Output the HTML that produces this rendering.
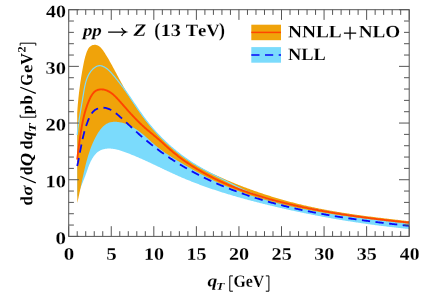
<!DOCTYPE html>
<html><head><meta charset="utf-8"><title>qT spectrum</title>
<style>html,body{margin:0;padding:0;background:#fff}svg{display:block;will-change:transform}text{font-family:"Liberation Serif",serif;font-kerning:none}</style></head>
<body>
<svg width="424" height="298" viewBox="0 0 424 298">
<rect width="424" height="298" fill="#fff"/>
<clipPath id="c"><rect x="68.7" y="9.7" width="340.5" height="226.70000000000002"/></clipPath>
<g clip-path="url(#c)">
<path d="M77.20 135.00L77.29 134.09L77.38 133.19L77.48 132.28L77.58 131.39L77.68 130.50L77.78 129.61L77.89 128.72L78.00 127.84L78.11 126.96L78.23 126.08L78.34 125.21L78.46 124.34L78.58 123.47L78.71 122.61L78.83 121.74L78.96 120.88L79.09 120.02L79.22 119.17L79.36 118.31L79.49 117.45L79.63 116.60L79.77 115.74L79.90 114.89L80.04 114.04L80.19 113.19L80.33 112.33L80.47 111.48L80.62 110.63L80.76 109.78L80.91 108.92L81.05 108.07L81.20 107.21L81.35 106.35L81.49 105.50L81.64 104.64L81.79 103.77L81.94 102.91L82.09 102.05L82.23 101.18L82.38 100.31L82.53 99.43L82.68 98.56L82.82 97.68L82.97 96.80L83.11 95.91L83.26 95.02L83.40 94.13L83.55 93.23L83.69 92.34L83.84 91.44L83.99 90.54L84.15 89.64L84.31 88.74L84.48 87.84L84.65 86.95L84.84 86.05L85.03 85.17L85.23 84.28L85.45 83.40L85.68 82.53L85.92 81.67L86.18 80.81L86.45 79.96L86.74 79.13L87.05 78.30L87.38 77.48L87.72 76.67L88.09 75.88L88.48 75.10L88.90 74.33L89.33 73.58L89.80 72.84L90.29 72.12L90.80 71.42L91.35 70.73L91.92 70.06L92.53 69.41L93.16 68.79L93.83 68.20L94.52 67.64L95.23 67.14L95.97 66.70L96.73 66.32L97.50 66.02L98.29 65.82L99.09 65.70L99.90 65.69L100.71 65.77L101.53 65.93L102.35 66.17L103.17 66.47L103.97 66.84L104.76 67.27L105.54 67.74L106.30 68.26L107.04 68.81L107.75 69.40L108.45 70.01L109.14 70.65L109.81 71.31L110.46 71.99L111.10 72.68L111.73 73.38L112.35 74.09L112.95 74.81L113.55 75.53L114.14 76.24L114.73 76.95L115.31 77.65L115.88 78.35L116.45 79.04L117.01 79.73L117.57 80.42L118.12 81.10L118.67 81.78L119.21 82.47L119.75 83.15L120.28 83.83L120.81 84.51L121.34 85.19L121.86 85.88L122.39 86.56L122.90 87.25L123.42 87.95L123.93 88.64L124.44 89.34L124.95 90.04L125.46 90.74L125.97 91.45L126.47 92.16L126.97 92.87L127.47 93.58L127.97 94.30L128.47 95.02L128.96 95.74L129.46 96.46L129.95 97.18L130.45 97.90L130.94 98.63L131.43 99.35L131.93 100.08L132.42 100.81L132.91 101.54L133.40 102.26L133.90 102.99L134.39 103.72L134.88 104.45L135.38 105.18L135.87 105.91L136.37 106.64L136.86 107.37L137.36 108.10L137.86 108.83L138.36 109.56L138.86 110.28L139.36 111.01L139.87 111.73L140.37 112.46L140.88 113.18L141.39 113.90L141.91 114.62L142.42 115.34L142.94 116.05L143.46 116.77L143.98 117.48L144.51 118.19L145.04 118.89L145.57 119.60L146.11 120.30L146.65 121.00L147.19 121.69L147.74 122.39L148.29 123.08L148.84 123.76L149.39 124.45L149.95 125.13L150.51 125.81L151.08 126.49L151.65 127.16L152.22 127.83L152.80 128.50L153.37 129.17L153.96 129.83L154.54 130.49L155.13 131.15L155.72 131.80L156.31 132.45L156.91 133.10L157.51 133.74L158.11 134.39L158.72 135.03L159.33 135.66L159.94 136.29L160.56 136.92L161.17 137.55L161.80 138.18L162.42 138.80L163.05 139.42L163.68 140.03L164.31 140.64L164.94 141.25L165.58 141.86L166.22 142.46L166.87 143.06L167.52 143.66L168.17 144.25L168.82 144.84L169.47 145.43L170.13 146.01L170.79 146.59L171.46 147.17L172.12 147.74L172.79 148.31L173.47 148.88L174.14 149.44L174.82 150.01L175.50 150.56L176.18 151.12L176.86 151.67L177.55 152.22L178.24 152.76L178.94 153.30L179.63 153.84L180.33 154.38L181.03 154.91L181.73 155.44L182.44 155.96L183.15 156.48L183.86 157.00L184.57 157.51L185.28 158.02L186.00 158.53L186.72 159.03L187.45 159.54L188.17 160.03L188.90 160.53L189.63 161.02L190.36 161.50L191.09 161.98L191.83 162.46L192.57 162.94L193.31 163.41L194.05 163.88L194.80 164.35L195.55 164.81L196.30 165.26L197.05 165.72L197.80 166.17L198.56 166.62L199.32 167.06L200.08 167.50L200.84 167.94L201.60 168.38L202.37 168.81L203.14 169.24L203.90 169.67L204.67 170.09L205.45 170.52L206.22 170.94L206.99 171.35L207.77 171.77L208.55 172.18L209.32 172.60L210.10 173.01L210.88 173.42L211.66 173.82L212.45 174.23L213.23 174.63L214.01 175.04L214.80 175.44L215.58 175.84L216.37 176.24L217.15 176.64L217.94 177.04L218.73 177.44L219.51 177.83L220.30 178.23L221.09 178.63L221.88 179.02L222.66 179.42L223.45 179.82L224.24 180.21L225.03 180.61L225.82 181.00L226.61 181.40L227.39 181.80L228.18 182.19L228.97 182.59L229.75 182.99L230.54 183.39L231.33 183.79L232.11 184.19L232.90 184.59L233.68 184.99L234.47 185.40L235.25 185.79L236.04 186.19L236.82 186.59L237.61 186.99L238.40 187.38L239.18 187.77L239.97 188.16L240.76 188.54L241.55 188.93L242.35 189.31L243.14 189.68L243.94 190.05L244.73 190.42L245.53 190.78L246.33 191.14L247.14 191.49L247.94 191.84L248.75 192.18L249.56 192.52L250.37 192.86L251.18 193.18L251.99 193.51L252.81 193.83L253.63 194.15L254.44 194.46L255.27 194.77L256.09 195.07L256.91 195.37L257.74 195.67L258.56 195.96L259.39 196.25L260.22 196.53L261.05 196.81L261.88 197.09L262.72 197.36L263.55 197.63L264.39 197.90L265.23 198.16L266.06 198.42L266.90 198.67L267.75 198.93L268.59 199.18L269.43 199.42L270.28 199.67L271.12 199.90L271.97 200.14L272.82 200.38L273.67 200.61L274.52 200.83L275.37 201.06L276.22 201.28L277.07 201.50L277.93 201.72L278.78 201.93L279.64 202.15L280.49 202.36L281.35 202.56L282.21 202.77L283.07 202.97L283.93 203.17L284.79 203.37L285.65 203.57L286.51 203.76L287.37 203.95L288.24 204.14L289.10 204.33L289.96 204.52L290.83 204.70L291.69 204.89L292.56 205.07L293.42 205.25L294.29 205.43L295.15 205.60L296.02 205.78L296.89 205.95L297.76 206.13L298.62 206.30L299.49 206.47L300.36 206.64L301.23 206.81L302.10 206.98L302.96 207.14L303.83 207.31L304.70 207.47L305.57 207.64L306.44 207.80L307.31 207.97L308.18 208.13L309.04 208.29L309.91 208.45L310.78 208.61L311.65 208.77L312.52 208.93L313.39 209.09L314.26 209.25L315.12 209.41L315.99 209.57L316.86 209.73L317.73 209.89L318.59 210.04L319.46 210.20L320.33 210.36L321.20 210.51L322.06 210.67L322.93 210.82L323.80 210.98L324.67 211.13L325.53 211.28L326.40 211.44L327.27 211.59L328.14 211.74L329.00 211.89L329.87 212.04L330.74 212.19L331.60 212.34L332.47 212.49L333.34 212.64L334.21 212.79L335.07 212.94L335.94 213.08L336.81 213.23L337.67 213.37L338.54 213.52L339.41 213.66L340.27 213.81L341.14 213.95L342.01 214.09L342.88 214.23L343.74 214.38L344.61 214.52L345.48 214.66L346.35 214.79L347.21 214.93L348.08 215.07L348.95 215.21L349.82 215.34L350.68 215.48L351.55 215.62L352.42 215.75L353.29 215.88L354.16 216.02L355.02 216.15L355.89 216.28L356.76 216.41L357.63 216.54L358.50 216.67L359.37 216.80L360.24 216.92L361.10 217.05L361.97 217.18L362.84 217.30L363.71 217.43L364.58 217.55L365.45 217.67L366.32 217.79L367.19 217.91L368.06 218.03L368.93 218.15L369.80 218.27L370.67 218.39L371.54 218.51L372.41 218.62L373.29 218.74L374.16 218.85L375.03 218.96L375.90 219.08L376.77 219.19L377.64 219.30L378.52 219.41L379.39 219.52L380.26 219.62L381.13 219.73L382.01 219.84L382.88 219.94L383.75 220.04L384.63 220.15L385.50 220.25L386.38 220.35L387.25 220.45L388.12 220.55L389.00 220.65L389.87 220.74L390.75 220.84L391.63 220.93L392.50 221.03L393.38 221.12L394.25 221.21L395.13 221.30L396.01 221.39L396.89 221.48L397.76 221.57L398.64 221.65L399.52 221.74L400.40 221.82L401.28 221.90L402.16 221.99L403.03 222.07L403.91 222.15L404.79 222.22L405.68 222.30L406.56 222.38L407.44 222.45L408.32 222.53L409.20 222.60L409.20 229.00L408.45 228.93L407.70 228.85L406.96 228.78L406.21 228.70L405.46 228.63L404.71 228.55L403.97 228.47L403.22 228.40L402.47 228.32L401.72 228.24L400.98 228.16L400.23 228.08L399.48 228.00L398.73 227.92L397.99 227.84L397.24 227.76L396.49 227.68L395.75 227.59L395.00 227.51L394.26 227.42L393.51 227.34L392.76 227.25L392.02 227.17L391.27 227.08L390.52 227.00L389.78 226.91L389.03 226.82L388.29 226.73L387.54 226.64L386.80 226.55L386.05 226.46L385.31 226.37L384.56 226.28L383.81 226.19L383.07 226.10L382.32 226.00L381.58 225.91L380.83 225.82L380.09 225.72L379.35 225.63L378.60 225.53L377.86 225.43L377.11 225.34L376.37 225.24L375.62 225.14L374.88 225.04L374.14 224.94L373.39 224.84L372.65 224.74L371.90 224.64L371.16 224.54L370.42 224.44L369.67 224.34L368.93 224.23L368.19 224.13L367.44 224.03L366.70 223.92L365.96 223.82L365.21 223.71L364.47 223.60L363.73 223.50L362.99 223.39L362.24 223.28L361.50 223.17L360.76 223.06L360.02 222.96L359.27 222.84L358.53 222.73L357.79 222.62L357.05 222.51L356.31 222.40L355.56 222.29L354.82 222.17L354.08 222.06L353.34 221.94L352.60 221.83L351.86 221.71L351.12 221.60L350.37 221.48L349.63 221.36L348.89 221.24L348.15 221.13L347.41 221.01L346.67 220.89L345.93 220.77L345.19 220.65L344.45 220.53L343.71 220.40L342.97 220.28L342.23 220.16L341.49 220.04L340.75 219.91L340.01 219.79L339.27 219.66L338.53 219.54L337.79 219.41L337.05 219.28L336.31 219.16L335.57 219.03L334.83 218.90L334.09 218.77L333.35 218.64L332.61 218.51L331.88 218.38L331.14 218.25L330.40 218.12L329.66 217.99L328.92 217.86L328.18 217.72L327.44 217.59L326.71 217.45L325.97 217.32L325.23 217.18L324.49 217.05L323.75 216.91L323.02 216.78L322.28 216.64L321.54 216.50L320.80 216.36L320.07 216.22L319.33 216.08L318.59 215.94L317.85 215.80L317.12 215.66L316.38 215.52L315.64 215.38L314.91 215.23L314.17 215.09L313.43 214.95L312.70 214.80L311.96 214.66L311.22 214.51L310.49 214.36L309.75 214.22L309.02 214.07L308.28 213.92L307.54 213.77L306.81 213.63L306.07 213.48L305.34 213.33L304.60 213.18L303.87 213.03L303.13 212.87L302.40 212.72L301.66 212.57L300.93 212.42L300.19 212.26L299.46 212.11L298.72 211.95L297.99 211.80L297.25 211.64L296.52 211.49L295.78 211.33L295.05 211.17L294.32 211.01L293.58 210.85L292.85 210.70L292.11 210.54L291.38 210.38L290.65 210.22L289.91 210.05L289.18 209.89L288.45 209.73L287.71 209.57L286.98 209.40L286.25 209.24L285.51 209.08L284.78 208.91L284.05 208.75L283.32 208.58L282.58 208.41L281.85 208.25L281.12 208.08L280.39 207.91L279.65 207.74L278.92 207.57L278.19 207.40L277.46 207.23L276.73 207.06L275.99 206.89L275.26 206.72L274.53 206.55L273.80 206.37L273.07 206.20L272.34 206.03L271.60 205.85L270.87 205.68L270.14 205.50L269.41 205.32L268.68 205.15L267.95 204.97L267.22 204.79L266.49 204.62L265.76 204.44L265.03 204.26L264.30 204.08L263.57 203.90L262.84 203.72L262.11 203.53L261.38 203.35L260.65 203.17L259.92 202.98L259.19 202.80L258.46 202.62L257.73 202.43L257.00 202.24L256.28 202.06L255.55 201.87L254.82 201.68L254.09 201.49L253.36 201.30L252.64 201.11L251.91 200.92L251.18 200.73L250.45 200.54L249.73 200.34L249.00 200.15L248.27 199.96L247.55 199.76L246.82 199.57L246.10 199.37L245.37 199.17L244.65 198.97L243.92 198.77L243.20 198.57L242.47 198.37L241.75 198.17L241.02 197.97L240.30 197.77L239.58 197.56L238.85 197.36L238.13 197.15L237.41 196.95L236.68 196.74L235.96 196.53L235.24 196.32L234.52 196.11L233.80 195.90L233.08 195.69L232.36 195.48L231.64 195.26L230.92 195.05L230.20 194.84L229.48 194.62L228.76 194.40L228.04 194.18L227.32 193.97L226.60 193.75L225.88 193.53L225.17 193.30L224.45 193.08L223.73 192.86L223.02 192.63L222.30 192.41L221.58 192.18L220.87 191.95L220.15 191.72L219.44 191.49L218.73 191.26L218.01 191.03L217.30 190.80L216.59 190.57L215.87 190.33L215.16 190.10L214.45 189.86L213.74 189.62L213.03 189.38L212.32 189.14L211.61 188.90L210.90 188.66L210.19 188.41L209.48 188.17L208.77 187.92L208.06 187.68L207.35 187.43L206.65 187.18L205.94 186.93L205.23 186.68L204.53 186.43L203.82 186.17L203.12 185.92L202.41 185.66L201.71 185.40L201.01 185.15L200.30 184.89L199.60 184.63L198.90 184.36L198.20 184.10L197.50 183.84L196.80 183.57L196.10 183.30L195.40 183.03L194.70 182.76L194.00 182.49L193.30 182.22L192.61 181.95L191.91 181.67L191.21 181.40L190.52 181.12L189.82 180.84L189.13 180.56L188.44 180.28L187.74 180.00L187.05 179.71L186.36 179.43L185.67 179.14L184.97 178.85L184.28 178.56L183.59 178.27L182.90 177.98L182.22 177.69L181.53 177.39L180.84 177.10L180.15 176.80L179.47 176.50L178.78 176.20L178.10 175.90L177.41 175.59L176.73 175.29L176.04 174.98L175.36 174.68L174.68 174.37L174.00 174.06L173.32 173.75L172.64 173.43L171.95 173.12L171.27 172.81L170.59 172.49L169.92 172.18L169.24 171.86L168.56 171.54L167.88 171.22L167.20 170.91L166.52 170.59L165.84 170.27L165.17 169.95L164.49 169.63L163.81 169.30L163.13 168.98L162.46 168.66L161.78 168.34L161.10 168.02L160.42 167.69L159.75 167.37L159.07 167.05L158.39 166.73L157.71 166.40L157.03 166.08L156.36 165.76L155.68 165.44L155.00 165.11L154.32 164.79L153.64 164.47L152.96 164.15L152.28 163.83L151.60 163.51L150.92 163.19L150.24 162.87L149.56 162.55L148.88 162.23L148.19 161.92L147.51 161.60L146.83 161.28L146.14 160.97L145.46 160.66L144.77 160.34L144.09 160.03L143.40 159.72L142.71 159.41L142.03 159.10L141.34 158.80L140.65 158.49L139.96 158.19L139.27 157.88L138.57 157.58L137.88 157.28L137.19 156.98L136.49 156.69L135.80 156.39L135.10 156.10L134.40 155.81L133.71 155.52L133.01 155.23L132.31 154.94L131.60 154.66L130.90 154.38L130.20 154.10L129.49 153.82L128.78 153.54L128.08 153.27L127.37 153.00L126.66 152.73L125.95 152.46L125.23 152.20L124.52 151.93L123.80 151.68L123.09 151.42L122.37 151.18L121.65 150.94L120.92 150.70L120.20 150.48L119.47 150.26L118.74 150.05L118.01 149.86L117.27 149.67L116.54 149.49L115.80 149.33L115.05 149.18L114.31 149.05L113.56 148.93L112.81 148.83L112.06 148.74L111.30 148.67L110.55 148.62L109.80 148.58L109.05 148.57L108.30 148.58L107.55 148.61L106.81 148.67L106.08 148.74L105.35 148.85L104.63 148.97L103.91 149.13L103.21 149.31L102.51 149.52L101.83 149.75L101.15 150.02L100.49 150.32L99.84 150.65L99.21 151.01L98.59 151.41L97.98 151.84L97.39 152.31L96.82 152.81L96.27 153.34L95.73 153.90L95.21 154.48L94.71 155.09L94.22 155.72L93.75 156.36L93.29 157.02L92.86 157.68L92.44 158.36L92.03 159.04L91.65 159.72L91.27 160.41L90.92 161.10L90.57 161.79L90.24 162.49L89.93 163.19L89.62 163.89L89.33 164.59L89.05 165.29L88.78 165.98L88.52 166.68L88.26 167.37L88.02 168.07L87.77 168.76L87.54 169.46L87.30 170.15L87.06 170.84L86.82 171.53L86.58 172.23L86.33 172.92L86.08 173.61L85.83 174.30L85.57 175.00L85.31 175.69L85.05 176.39L84.79 177.08L84.52 177.78L84.25 178.47L83.98 179.17L83.71 179.86L83.44 180.56L83.16 181.26L82.89 181.95L82.62 182.65L82.34 183.35L82.07 184.05L81.79 184.75L81.52 185.45L81.25 186.15L80.97 186.85L80.70 187.56L80.43 188.26L80.17 188.97L79.90 189.67L79.64 190.38L79.38 191.09L79.12 191.79L78.87 192.50L78.62 193.21L78.37 193.93L78.13 194.64L77.89 195.35L77.66 196.07L77.43 196.78L77.20 197.50Z" fill="#7bdbfc"/>
<path d="M77.20 113.00L77.25 112.10L77.31 111.20L77.37 110.29L77.43 109.39L77.50 108.49L77.57 107.58L77.64 106.67L77.71 105.77L77.78 104.86L77.86 103.95L77.94 103.04L78.02 102.13L78.11 101.22L78.20 100.31L78.29 99.40L78.38 98.48L78.47 97.57L78.57 96.66L78.67 95.75L78.77 94.84L78.88 93.93L78.98 93.01L79.09 92.10L79.20 91.19L79.32 90.28L79.43 89.37L79.55 88.46L79.67 87.55L79.79 86.64L79.91 85.74L80.04 84.83L80.17 83.92L80.30 83.02L80.43 82.11L80.56 81.21L80.70 80.31L80.84 79.41L80.98 78.51L81.12 77.61L81.27 76.71L81.41 75.81L81.56 74.92L81.71 74.03L81.86 73.14L82.02 72.25L82.17 71.36L82.33 70.47L82.49 69.59L82.65 68.70L82.81 67.82L82.98 66.95L83.14 66.07L83.31 65.20L83.48 64.32L83.65 63.45L83.83 62.58L84.01 61.71L84.20 60.83L84.41 59.95L84.62 59.06L84.84 58.17L85.08 57.26L85.33 56.35L85.61 55.42L85.90 54.48L86.21 53.52L86.54 52.56L86.90 51.60L87.30 50.65L87.73 49.74L88.20 48.87L88.72 48.07L89.29 47.33L89.91 46.68L90.59 46.13L91.32 45.68L92.09 45.32L92.89 45.06L93.71 44.89L94.55 44.83L95.40 44.86L96.24 44.98L97.08 45.21L97.90 45.53L98.69 45.94L99.44 46.45L100.17 47.04L100.86 47.71L101.52 48.44L102.15 49.21L102.76 50.02L103.35 50.85L103.91 51.69L104.45 52.52L104.98 53.34L105.49 54.15L105.99 54.95L106.47 55.74L106.94 56.52L107.41 57.29L107.87 58.06L108.32 58.83L108.76 59.60L109.21 60.37L109.65 61.14L110.09 61.92L110.53 62.70L110.96 63.49L111.40 64.27L111.83 65.06L112.27 65.85L112.70 66.65L113.13 67.44L113.56 68.24L113.99 69.04L114.42 69.84L114.85 70.64L115.28 71.44L115.71 72.25L116.14 73.05L116.57 73.86L116.99 74.66L117.42 75.47L117.85 76.28L118.29 77.08L118.72 77.89L119.15 78.70L119.58 79.50L120.02 80.31L120.45 81.11L120.89 81.92L121.33 82.72L121.77 83.52L122.21 84.32L122.65 85.12L123.10 85.92L123.54 86.71L123.99 87.51L124.44 88.31L124.89 89.10L125.34 89.89L125.80 90.68L126.26 91.47L126.71 92.26L127.18 93.05L127.64 93.84L128.10 94.62L128.57 95.40L129.04 96.19L129.51 96.97L129.98 97.74L130.46 98.52L130.94 99.30L131.42 100.07L131.90 100.84L132.39 101.61L132.88 102.38L133.37 103.15L133.86 103.92L134.36 104.68L134.86 105.44L135.36 106.20L135.87 106.96L136.38 107.72L136.89 108.47L137.40 109.22L137.92 109.97L138.44 110.72L138.96 111.47L139.49 112.21L140.02 112.95L140.55 113.69L141.09 114.43L141.63 115.17L142.17 115.90L142.72 116.63L143.26 117.36L143.82 118.09L144.37 118.81L144.93 119.53L145.49 120.25L146.05 120.97L146.62 121.68L147.19 122.40L147.77 123.11L148.34 123.81L148.92 124.52L149.51 125.22L150.09 125.92L150.68 126.62L151.27 127.31L151.87 128.00L152.47 128.69L153.07 129.38L153.67 130.06L154.28 130.74L154.89 131.42L155.51 132.09L156.12 132.76L156.74 133.43L157.37 134.10L157.99 134.76L158.62 135.42L159.25 136.08L159.89 136.73L160.53 137.38L161.17 138.03L161.82 138.67L162.46 139.31L163.11 139.95L163.77 140.59L164.43 141.22L165.09 141.85L165.75 142.47L166.42 143.09L167.09 143.71L167.76 144.32L168.43 144.94L169.11 145.54L169.79 146.15L170.48 146.75L171.17 147.35L171.86 147.94L172.55 148.53L173.25 149.11L173.95 149.70L174.65 150.28L175.36 150.85L176.07 151.42L176.78 151.99L177.50 152.55L178.21 153.11L178.94 153.67L179.66 154.22L180.39 154.77L181.12 155.32L181.85 155.86L182.59 156.39L183.33 156.93L184.07 157.45L184.81 157.98L185.56 158.50L186.31 159.01L187.06 159.53L187.82 160.03L188.58 160.54L189.34 161.04L190.11 161.53L190.87 162.02L191.65 162.51L192.42 162.99L193.20 163.47L193.97 163.94L194.76 164.41L195.54 164.87L196.33 165.33L197.12 165.79L197.91 166.24L198.71 166.69L199.51 167.13L200.31 167.56L201.11 168.00L201.92 168.43L202.73 168.85L203.54 169.27L204.35 169.69L205.16 170.10L205.98 170.51L206.80 170.92L207.62 171.33L208.44 171.73L209.26 172.13L210.09 172.52L210.91 172.92L211.74 173.31L212.57 173.70L213.39 174.08L214.22 174.47L215.05 174.85L215.88 175.24L216.71 175.62L217.54 176.00L218.38 176.37L219.21 176.75L220.04 177.12L220.88 177.49L221.71 177.86L222.55 178.23L223.38 178.60L224.22 178.96L225.06 179.33L225.90 179.69L226.73 180.05L227.57 180.41L228.41 180.76L229.25 181.12L230.09 181.47L230.94 181.82L231.78 182.17L232.62 182.52L233.47 182.87L234.31 183.21L235.16 183.55L236.00 183.89L236.85 184.23L237.69 184.57L238.54 184.91L239.39 185.24L240.24 185.57L241.09 185.90L241.94 186.23L242.79 186.56L243.64 186.88L244.49 187.21L245.34 187.53L246.20 187.85L247.05 188.17L247.91 188.49L248.76 188.80L249.62 189.11L250.47 189.43L251.33 189.74L252.19 190.04L253.04 190.35L253.90 190.66L254.76 190.96L255.62 191.26L256.48 191.56L257.34 191.86L258.20 192.15L259.06 192.45L259.93 192.74L260.79 193.03L261.65 193.32L262.52 193.61L263.38 193.89L264.25 194.18L265.11 194.46L265.98 194.74L266.84 195.02L267.71 195.30L268.58 195.57L269.45 195.85L270.32 196.12L271.19 196.39L272.06 196.66L272.93 196.93L273.80 197.19L274.67 197.45L275.54 197.72L276.41 197.98L277.29 198.24L278.16 198.49L279.03 198.75L279.91 199.00L280.78 199.25L281.66 199.50L282.54 199.75L283.41 200.00L284.29 200.24L285.17 200.48L286.04 200.73L286.92 200.97L287.80 201.20L288.68 201.44L289.56 201.67L290.44 201.91L291.32 202.14L292.21 202.37L293.09 202.60L293.97 202.82L294.85 203.05L295.74 203.27L296.62 203.49L297.50 203.71L298.39 203.93L299.27 204.14L300.16 204.36L301.05 204.57L301.93 204.78L302.82 204.99L303.71 205.20L304.60 205.40L305.48 205.61L306.37 205.81L307.26 206.01L308.15 206.21L309.04 206.41L309.93 206.60L310.82 206.79L311.72 206.99L312.61 207.18L313.50 207.37L314.39 207.55L315.29 207.74L316.18 207.92L317.07 208.10L317.97 208.29L318.86 208.46L319.76 208.64L320.65 208.82L321.55 208.99L322.45 209.17L323.34 209.34L324.24 209.51L325.14 209.68L326.03 209.84L326.93 210.01L327.83 210.17L328.73 210.34L329.63 210.50L330.53 210.66L331.43 210.82L332.33 210.98L333.23 211.13L334.13 211.29L335.03 211.44L335.93 211.59L336.83 211.74L337.73 211.89L338.63 212.04L339.53 212.19L340.43 212.34L341.34 212.48L342.24 212.63L343.14 212.77L344.04 212.91L344.95 213.05L345.85 213.19L346.75 213.33L347.66 213.47L348.56 213.61L349.47 213.74L350.37 213.88L351.27 214.01L352.18 214.14L353.08 214.27L353.99 214.40L354.89 214.53L355.80 214.66L356.70 214.79L357.61 214.92L358.51 215.04L359.42 215.17L360.32 215.29L361.23 215.42L362.14 215.54L363.04 215.66L363.95 215.78L364.85 215.90L365.76 216.02L366.67 216.14L367.57 216.26L368.48 216.38L369.38 216.49L370.29 216.61L371.20 216.73L372.10 216.84L373.01 216.96L373.91 217.07L374.82 217.18L375.73 217.30L376.63 217.41L377.54 217.52L378.45 217.63L379.35 217.74L380.26 217.85L381.16 217.96L382.07 218.07L382.98 218.18L383.88 218.29L384.79 218.39L385.69 218.50L386.60 218.61L387.51 218.71L388.41 218.82L389.32 218.93L390.22 219.03L391.13 219.14L392.03 219.24L392.94 219.35L393.84 219.45L394.75 219.55L395.65 219.66L396.56 219.76L397.46 219.87L398.36 219.97L399.27 220.07L400.17 220.18L401.08 220.28L401.98 220.38L402.88 220.48L403.79 220.59L404.69 220.69L405.59 220.79L406.49 220.89L407.40 221.00L408.30 221.10L409.20 221.20L409.20 223.80L408.39 223.71L407.58 223.61L406.76 223.51L405.95 223.42L405.14 223.33L404.33 223.23L403.51 223.14L402.70 223.04L401.88 222.95L401.07 222.85L400.25 222.76L399.44 222.66L398.62 222.57L397.81 222.47L396.99 222.38L396.18 222.28L395.36 222.19L394.54 222.10L393.73 222.00L392.91 221.91L392.09 221.81L391.28 221.72L390.46 221.62L389.64 221.53L388.82 221.43L388.01 221.34L387.19 221.24L386.37 221.14L385.55 221.05L384.73 220.95L383.91 220.86L383.09 220.76L382.27 220.66L381.45 220.57L380.63 220.47L379.81 220.37L378.99 220.28L378.17 220.18L377.35 220.08L376.53 219.98L375.71 219.89L374.89 219.79L374.07 219.69L373.25 219.59L372.43 219.49L371.61 219.39L370.79 219.29L369.96 219.19L369.14 219.09L368.32 218.99L367.50 218.89L366.68 218.79L365.86 218.68L365.03 218.58L364.21 218.48L363.39 218.37L362.57 218.27L361.75 218.17L360.92 218.06L360.10 217.96L359.28 217.85L358.46 217.74L357.64 217.64L356.81 217.53L355.99 217.42L355.17 217.32L354.35 217.21L353.52 217.10L352.70 216.99L351.88 216.88L351.06 216.77L350.24 216.66L349.41 216.54L348.59 216.43L347.77 216.32L346.95 216.20L346.13 216.09L345.30 215.97L344.48 215.86L343.66 215.74L342.84 215.63L342.02 215.51L341.20 215.39L340.37 215.27L339.55 215.15L338.73 215.03L337.91 214.91L337.09 214.79L336.27 214.67L335.45 214.54L334.63 214.42L333.81 214.29L332.99 214.17L332.16 214.04L331.34 213.91L330.52 213.79L329.70 213.66L328.88 213.53L328.07 213.40L327.25 213.26L326.43 213.13L325.61 213.00L324.79 212.87L323.97 212.73L323.15 212.59L322.33 212.46L321.51 212.32L320.70 212.18L319.88 212.04L319.06 211.90L318.24 211.76L317.43 211.62L316.61 211.47L315.79 211.33L314.98 211.19L314.16 211.04L313.34 210.89L312.53 210.74L311.71 210.59L310.90 210.44L310.08 210.29L309.27 210.14L308.45 209.99L307.64 209.83L306.83 209.67L306.01 209.52L305.20 209.36L304.39 209.20L303.57 209.04L302.76 208.88L301.95 208.72L301.14 208.55L300.33 208.39L299.52 208.22L298.71 208.05L297.90 207.88L297.09 207.71L296.28 207.54L295.47 207.37L294.66 207.20L293.85 207.02L293.04 206.85L292.23 206.67L291.43 206.49L290.62 206.31L289.81 206.13L289.01 205.95L288.20 205.76L287.39 205.58L286.59 205.39L285.78 205.20L284.98 205.02L284.18 204.82L283.37 204.63L282.57 204.44L281.77 204.24L280.97 204.05L280.16 203.85L279.36 203.65L278.56 203.45L277.76 203.25L276.96 203.05L276.16 202.84L275.36 202.63L274.57 202.43L273.77 202.22L272.97 202.01L272.17 201.79L271.38 201.58L270.58 201.36L269.79 201.15L268.99 200.93L268.20 200.71L267.40 200.49L266.61 200.26L265.82 200.04L265.03 199.81L264.23 199.58L263.44 199.35L262.65 199.12L261.86 198.89L261.07 198.65L260.28 198.42L259.50 198.18L258.71 197.94L257.92 197.70L257.13 197.46L256.35 197.21L255.56 196.96L254.78 196.72L253.99 196.47L253.21 196.21L252.43 195.96L251.65 195.70L250.86 195.45L250.08 195.19L249.30 194.93L248.52 194.66L247.74 194.40L246.97 194.13L246.19 193.87L245.41 193.60L244.64 193.32L243.86 193.05L243.08 192.77L242.31 192.50L241.54 192.22L240.76 191.94L239.99 191.65L239.22 191.37L238.45 191.08L237.68 190.79L236.91 190.50L236.14 190.21L235.37 189.91L234.61 189.61L233.84 189.31L233.07 189.01L232.31 188.71L231.54 188.40L230.78 188.10L230.02 187.79L229.26 187.48L228.50 187.16L227.73 186.85L226.98 186.53L226.22 186.21L225.46 185.89L224.70 185.56L223.95 185.24L223.19 184.91L222.43 184.58L221.68 184.25L220.93 183.91L220.18 183.58L219.42 183.24L218.67 182.89L217.92 182.55L217.17 182.21L216.43 181.86L215.68 181.51L214.93 181.15L214.19 180.80L213.44 180.44L212.70 180.08L211.96 179.72L211.21 179.36L210.47 178.99L209.73 178.62L208.99 178.25L208.25 177.88L207.52 177.51L206.78 177.13L206.04 176.75L205.31 176.37L204.57 175.99L203.84 175.61L203.11 175.22L202.37 174.83L201.64 174.45L200.91 174.06L200.18 173.66L199.45 173.27L198.72 172.87L198.00 172.48L197.27 172.08L196.54 171.68L195.82 171.28L195.09 170.87L194.37 170.47L193.64 170.06L192.92 169.66L192.20 169.25L191.48 168.84L190.76 168.43L190.04 168.02L189.32 167.61L188.60 167.19L187.88 166.78L187.16 166.36L186.45 165.95L185.73 165.53L185.01 165.11L184.30 164.69L183.58 164.27L182.87 163.85L182.16 163.43L181.45 163.00L180.73 162.58L180.02 162.16L179.31 161.73L178.60 161.31L177.89 160.88L177.18 160.46L176.47 160.03L175.77 159.60L175.06 159.17L174.36 158.74L173.65 158.31L172.95 157.87L172.25 157.44L171.55 157.00L170.85 156.56L170.16 156.11L169.46 155.67L168.77 155.22L168.08 154.77L167.39 154.31L166.71 153.85L166.03 153.39L165.35 152.93L164.67 152.46L163.99 151.99L163.32 151.51L162.65 151.03L161.99 150.55L161.32 150.06L160.66 149.57L160.01 149.07L159.36 148.57L158.71 148.06L158.06 147.55L157.42 147.03L156.78 146.51L156.15 145.98L155.52 145.45L154.89 144.91L154.26 144.37L153.64 143.83L153.02 143.28L152.40 142.73L151.78 142.18L151.17 141.63L150.55 141.07L149.94 140.52L149.33 139.96L148.71 139.41L148.10 138.86L147.48 138.30L146.87 137.75L146.25 137.21L145.63 136.66L145.01 136.12L144.39 135.58L143.76 135.05L143.13 134.52L142.50 133.99L141.86 133.47L141.23 132.96L140.58 132.45L139.94 131.95L139.28 131.46L138.63 130.98L137.96 130.50L137.29 130.03L136.62 129.57L135.94 129.12L135.25 128.67L134.55 128.24L133.85 127.81L133.14 127.39L132.42 126.98L131.70 126.58L130.96 126.19L130.22 125.81L129.47 125.44L128.72 125.09L127.95 124.75L127.19 124.43L126.41 124.12L125.63 123.82L124.84 123.54L124.05 123.28L123.25 123.04L122.44 122.82L121.63 122.61L120.81 122.43L119.99 122.27L119.16 122.13L118.33 122.01L117.49 121.91L116.66 121.85L115.83 121.80L115.00 121.79L114.17 121.81L113.35 121.85L112.54 121.93L111.74 122.04L110.95 122.19L110.17 122.37L109.40 122.58L108.65 122.84L107.92 123.14L107.21 123.47L106.52 123.85L105.84 124.26L105.19 124.71L104.55 125.19L103.92 125.71L103.32 126.25L102.73 126.82L102.16 127.41L101.60 128.03L101.06 128.67L100.53 129.33L100.02 130.00L99.52 130.69L99.03 131.39L98.56 132.10L98.09 132.83L97.64 133.55L97.20 134.29L96.78 135.02L96.36 135.76L95.95 136.51L95.55 137.25L95.16 138.00L94.78 138.74L94.41 139.49L94.04 140.24L93.69 140.99L93.34 141.75L93.00 142.50L92.67 143.26L92.34 144.01L92.03 144.77L91.72 145.53L91.41 146.29L91.12 147.05L90.82 147.82L90.54 148.58L90.26 149.35L89.99 150.12L89.72 150.89L89.46 151.66L89.20 152.43L88.95 153.21L88.70 153.99L88.45 154.76L88.21 155.54L87.98 156.33L87.75 157.11L87.52 157.89L87.29 158.68L87.07 159.47L86.85 160.26L86.63 161.05L86.42 161.84L86.21 162.64L86.00 163.43L85.80 164.23L85.59 165.03L85.39 165.83L85.19 166.63L85.00 167.43L84.80 168.24L84.61 169.04L84.42 169.85L84.23 170.65L84.05 171.46L83.86 172.27L83.68 173.08L83.50 173.89L83.32 174.70L83.14 175.51L82.97 176.32L82.79 177.13L82.62 177.94L82.44 178.75L82.27 179.57L82.10 180.38L81.93 181.19L81.76 182.01L81.59 182.82L81.42 183.63L81.25 184.44L81.08 185.26L80.92 186.07L80.75 186.88L80.58 187.70L80.41 188.51L80.24 189.32L80.08 190.13L79.91 190.94L79.74 191.75L79.57 192.56L79.40 193.37L79.23 194.18L79.06 194.98L78.89 195.79L78.72 196.60L78.55 197.40L78.37 198.20L78.20 199.01L78.02 199.81L77.84 200.61L77.66 201.41L77.48 202.20L77.30 203.00Z" fill="#f0a30a"/>
<path d="M77.20 135.00L77.29 134.09L77.38 133.19L77.48 132.28L77.58 131.39L77.68 130.50L77.78 129.61L77.89 128.72L78.00 127.84L78.11 126.96L78.23 126.08L78.34 125.21L78.46 124.34L78.58 123.47L78.71 122.61L78.83 121.74L78.96 120.88L79.09 120.02L79.22 119.17L79.36 118.31L79.49 117.45L79.63 116.60L79.77 115.74L79.90 114.89L80.04 114.04L80.19 113.19L80.33 112.33L80.47 111.48L80.62 110.63L80.76 109.78L80.91 108.92L81.05 108.07L81.20 107.21L81.35 106.35L81.49 105.50L81.64 104.64L81.79 103.77L81.94 102.91L82.09 102.05L82.23 101.18L82.38 100.31L82.53 99.43L82.68 98.56L82.82 97.68L82.97 96.80L83.11 95.91L83.26 95.02L83.40 94.13L83.55 93.23L83.69 92.34L83.84 91.44L83.99 90.54L84.15 89.64L84.31 88.74L84.48 87.84L84.65 86.95L84.84 86.05L85.03 85.17L85.23 84.28L85.45 83.40L85.68 82.53L85.92 81.67L86.18 80.81L86.45 79.96L86.74 79.13L87.05 78.30L87.38 77.48L87.72 76.67L88.09 75.88L88.48 75.10L88.90 74.33L89.33 73.58L89.80 72.84L90.29 72.12L90.80 71.42L91.35 70.73L91.92 70.06L92.53 69.41L93.16 68.79L93.83 68.20L94.52 67.64L95.23 67.14L95.97 66.70L96.73 66.32L97.50 66.02L98.29 65.82L99.09 65.70L99.90 65.69L100.71 65.77L101.53 65.93L102.35 66.17L103.17 66.47L103.97 66.84L104.76 67.27L105.54 67.74L106.30 68.26L107.04 68.81L107.75 69.40L108.45 70.01L109.14 70.65L109.81 71.31L110.46 71.99L111.10 72.68L111.73 73.38L112.35 74.09L112.95 74.81L113.55 75.53L114.14 76.24L114.73 76.95L115.31 77.65L115.88 78.35L116.45 79.04L117.01 79.73L117.57 80.42L118.12 81.10L118.67 81.78L119.21 82.47L119.75 83.15L120.28 83.83L120.81 84.51L121.34 85.19L121.86 85.88L122.39 86.56L122.90 87.25L123.42 87.95L123.93 88.64L124.44 89.34L124.95 90.04L125.46 90.74L125.97 91.45L126.47 92.16L126.97 92.87L127.47 93.58L127.97 94.30L128.47 95.02L128.96 95.74L129.46 96.46L129.95 97.18L130.45 97.90L130.94 98.63L131.43 99.35L131.93 100.08L132.42 100.81L132.91 101.54L133.40 102.26L133.90 102.99L134.39 103.72L134.88 104.45L135.38 105.18L135.87 105.91L136.37 106.64L136.86 107.37L137.36 108.10L137.86 108.83L138.36 109.56L138.86 110.28L139.36 111.01L139.87 111.73L140.37 112.46L140.88 113.18L141.39 113.90L141.91 114.62L142.42 115.34L142.94 116.05L143.46 116.77L143.98 117.48L144.51 118.19L145.04 118.89L145.57 119.60L146.11 120.30L146.65 121.00L147.19 121.69L147.74 122.39L148.29 123.08L148.84 123.76L149.39 124.45L149.95 125.13L150.51 125.81L151.08 126.49L151.65 127.16L152.22 127.83L152.80 128.50L153.37 129.17L153.96 129.83L154.54 130.49L155.13 131.15L155.72 131.80L156.31 132.45L156.91 133.10L157.51 133.74L158.11 134.39L158.72 135.03L159.33 135.66L159.94 136.29L160.56 136.92L161.17 137.55L161.80 138.18L162.42 138.80L163.05 139.42L163.68 140.03L164.31 140.64L164.94 141.25L165.58 141.86L166.22 142.46L166.87 143.06L167.52 143.66L168.17 144.25L168.82 144.84L169.47 145.43L170.13 146.01L170.79 146.59L171.46 147.17L172.12 147.74L172.79 148.31L173.47 148.88L174.14 149.44L174.82 150.01L175.50 150.56L176.18 151.12L176.86 151.67L177.55 152.22L178.24 152.76L178.94 153.30L179.63 153.84L180.33 154.38L181.03 154.91L181.73 155.44L182.44 155.96L183.15 156.48L183.86 157.00L184.57 157.51L185.28 158.02L186.00 158.53L186.72 159.03L187.45 159.54L188.17 160.03L188.90 160.53L189.63 161.02L190.36 161.50L191.09 161.98L191.83 162.46L192.57 162.94L193.31 163.41L194.05 163.88L194.80 164.35L195.55 164.81L196.30 165.26L197.05 165.72L197.80 166.17L198.56 166.62L199.32 167.06L200.08 167.50L200.84 167.94L201.60 168.38L202.37 168.81L203.14 169.24L203.90 169.67L204.67 170.09L205.45 170.52L206.22 170.94L206.99 171.35L207.77 171.77L208.55 172.18L209.32 172.60L210.10 173.01L210.88 173.42L211.66 173.82L212.45 174.23L213.23 174.63L214.01 175.04L214.80 175.44L215.58 175.84L216.37 176.24L217.15 176.64L217.94 177.04L218.73 177.44L219.51 177.83L220.30 178.23L221.09 178.63L221.88 179.02L222.66 179.42L223.45 179.82L224.24 180.21L225.03 180.61L225.82 181.00L226.61 181.40L227.39 181.80L228.18 182.19L228.97 182.59L229.75 182.99L230.54 183.39L231.33 183.79L232.11 184.19L232.90 184.59L233.68 184.99L234.47 185.40L235.25 185.79L236.04 186.19L236.82 186.59L237.61 186.99L238.40 187.38L239.18 187.77L239.97 188.16L240.76 188.54L241.55 188.93L242.35 189.31L243.14 189.68L243.94 190.05L244.73 190.42L245.53 190.78L246.33 191.14L247.14 191.49L247.94 191.84L248.75 192.18L249.56 192.52L250.37 192.86L251.18 193.18L251.99 193.51L252.81 193.83L253.63 194.15L254.44 194.46L255.27 194.77L256.09 195.07L256.91 195.37L257.74 195.67L258.56 195.96L259.39 196.25L260.22 196.53L261.05 196.81L261.88 197.09L262.72 197.36L263.55 197.63L264.39 197.90L265.23 198.16L266.06 198.42L266.90 198.67L267.75 198.93L268.59 199.18L269.43 199.42L270.28 199.67L271.12 199.90L271.97 200.14L272.82 200.38L273.67 200.61L274.52 200.83L275.37 201.06L276.22 201.28L277.07 201.50L277.93 201.72L278.78 201.93L279.64 202.15L280.49 202.36L281.35 202.56L282.21 202.77L283.07 202.97L283.93 203.17L284.79 203.37L285.65 203.57L286.51 203.76L287.37 203.95L288.24 204.14L289.10 204.33L289.96 204.52L290.83 204.70L291.69 204.89L292.56 205.07L293.42 205.25L294.29 205.43L295.15 205.60L296.02 205.78L296.89 205.95L297.76 206.13L298.62 206.30L299.49 206.47L300.36 206.64L301.23 206.81L302.10 206.98L302.96 207.14L303.83 207.31L304.70 207.47L305.57 207.64L306.44 207.80L307.31 207.97L308.18 208.13L309.04 208.29L309.91 208.45L310.78 208.61L311.65 208.77L312.52 208.93L313.39 209.09L314.26 209.25L315.12 209.41L315.99 209.57L316.86 209.73L317.73 209.89L318.59 210.04L319.46 210.20L320.33 210.36L321.20 210.51L322.06 210.67L322.93 210.82L323.80 210.98L324.67 211.13L325.53 211.28L326.40 211.44L327.27 211.59L328.14 211.74L329.00 211.89L329.87 212.04L330.74 212.19L331.60 212.34L332.47 212.49L333.34 212.64L334.21 212.79L335.07 212.94L335.94 213.08L336.81 213.23L337.67 213.37L338.54 213.52L339.41 213.66L340.27 213.81L341.14 213.95L342.01 214.09L342.88 214.23L343.74 214.38L344.61 214.52L345.48 214.66L346.35 214.79L347.21 214.93L348.08 215.07L348.95 215.21L349.82 215.34L350.68 215.48L351.55 215.62L352.42 215.75L353.29 215.88L354.16 216.02L355.02 216.15L355.89 216.28L356.76 216.41L357.63 216.54L358.50 216.67L359.37 216.80L360.24 216.92L361.10 217.05L361.97 217.18L362.84 217.30L363.71 217.43L364.58 217.55L365.45 217.67L366.32 217.79L367.19 217.91L368.06 218.03L368.93 218.15L369.80 218.27L370.67 218.39L371.54 218.51L372.41 218.62L373.29 218.74L374.16 218.85L375.03 218.96L375.90 219.08L376.77 219.19L377.64 219.30L378.52 219.41L379.39 219.52L380.26 219.62L381.13 219.73L382.01 219.84L382.88 219.94L383.75 220.04L384.63 220.15L385.50 220.25L386.38 220.35L387.25 220.45L388.12 220.55L389.00 220.65L389.87 220.74L390.75 220.84L391.63 220.93L392.50 221.03L393.38 221.12L394.25 221.21L395.13 221.30L396.01 221.39L396.89 221.48L397.76 221.57L398.64 221.65L399.52 221.74L400.40 221.82L401.28 221.90L402.16 221.99L403.03 222.07L403.91 222.15L404.79 222.22L405.68 222.30L406.56 222.38L407.44 222.45L408.32 222.53L409.20 222.60" fill="none" stroke="#7bdbfc" stroke-width="1.2"/>
<path d="M77.20 159.50L77.30 158.68L77.40 157.86L77.50 157.03L77.60 156.20L77.71 155.37L77.81 154.53L77.91 153.69L78.01 152.86L78.12 152.01L78.22 151.17L78.33 150.33L78.43 149.48L78.54 148.63L78.65 147.78L78.76 146.93L78.87 146.08L78.98 145.23L79.09 144.38L79.20 143.53L79.32 142.67L79.43 141.82L79.55 140.97L79.67 140.11L79.78 139.26L79.91 138.41L80.03 137.56L80.15 136.70L80.28 135.85L80.40 135.01L80.53 134.16L80.66 133.31L80.80 132.47L80.93 131.62L81.07 130.78L81.21 129.94L81.35 129.11L81.49 128.27L81.63 127.44L81.78 126.61L81.93 125.78L82.08 124.96L82.24 124.14L82.39 123.32L82.55 122.51L82.72 121.70L82.88 120.89L83.05 120.08L83.22 119.28L83.40 118.47L83.58 117.67L83.77 116.87L83.96 116.07L84.16 115.27L84.36 114.47L84.57 113.67L84.79 112.87L85.01 112.06L85.24 111.26L85.48 110.45L85.73 109.64L85.98 108.82L86.25 108.00L86.52 107.18L86.80 106.36L87.09 105.52L87.40 104.69L87.71 103.85L88.03 103.00L88.37 102.15L88.71 101.29L89.07 100.43L89.45 99.57L89.83 98.71L90.24 97.87L90.66 97.04L91.10 96.23L91.56 95.45L92.05 94.69L92.55 93.97L93.08 93.29L93.64 92.65L94.22 92.05L94.83 91.51L95.47 91.03L96.15 90.61L96.85 90.25L97.58 89.96L98.34 89.73L99.11 89.56L99.91 89.44L100.72 89.39L101.53 89.39L102.35 89.43L103.18 89.53L104.00 89.68L104.81 89.87L105.62 90.10L106.41 90.37L107.18 90.68L107.94 91.03L108.69 91.41L109.42 91.83L110.14 92.27L110.85 92.74L111.54 93.24L112.23 93.77L112.90 94.32L113.57 94.88L114.22 95.47L114.86 96.07L115.50 96.69L116.13 97.32L116.75 97.97L117.36 98.62L117.97 99.28L118.58 99.94L119.17 100.61L119.77 101.28L120.36 101.95L120.95 102.61L121.53 103.27L122.11 103.93L122.69 104.59L123.27 105.25L123.84 105.90L124.41 106.55L124.98 107.20L125.55 107.84L126.12 108.48L126.69 109.12L127.25 109.76L127.82 110.39L128.38 111.03L128.95 111.65L129.51 112.28L130.08 112.90L130.64 113.53L131.21 114.14L131.77 114.76L132.34 115.37L132.91 115.98L133.48 116.59L134.05 117.20L134.62 117.80L135.20 118.40L135.77 119.00L136.35 119.60L136.93 120.19L137.52 120.78L138.11 121.37L138.70 121.96L139.29 122.54L139.89 123.12L140.49 123.70L141.09 124.28L141.70 124.85L142.32 125.42L142.93 125.99L143.56 126.56L144.18 127.12L144.82 127.68L145.45 128.24L146.10 128.80L146.74 129.36L147.39 129.91L148.05 130.46L148.70 131.02L149.36 131.57L150.02 132.12L150.68 132.66L151.34 133.21L152.00 133.76L152.67 134.31L153.33 134.86L153.99 135.41L154.65 135.96L155.31 136.51L155.97 137.06L156.63 137.61L157.28 138.17L157.93 138.73L158.57 139.28L159.21 139.84L159.85 140.41L160.48 140.97L161.12 141.54L161.74 142.10L162.37 142.67L162.99 143.24L163.62 143.81L164.24 144.38L164.86 144.94L165.48 145.51L166.10 146.08L166.72 146.64L167.35 147.21L167.97 147.77L168.60 148.33L169.23 148.89L169.86 149.44L170.50 150.00L171.14 150.55L171.78 151.09L172.42 151.64L173.07 152.18L173.73 152.72L174.38 153.25L175.04 153.79L175.71 154.32L176.37 154.84L177.04 155.37L177.71 155.89L178.38 156.41L179.06 156.92L179.74 157.43L180.42 157.94L181.11 158.45L181.80 158.95L182.49 159.45L183.18 159.95L183.88 160.44L184.57 160.94L185.27 161.42L185.98 161.91L186.68 162.39L187.39 162.87L188.09 163.35L188.80 163.82L189.52 164.30L190.23 164.76L190.95 165.23L191.67 165.69L192.38 166.15L193.11 166.61L193.83 167.06L194.55 167.51L195.28 167.96L196.01 168.40L196.73 168.85L197.46 169.28L198.20 169.72L198.93 170.15L199.66 170.58L200.40 171.01L201.14 171.44L201.87 171.86L202.61 172.28L203.35 172.69L204.10 173.11L204.84 173.52L205.58 173.93L206.33 174.33L207.08 174.73L207.83 175.13L208.58 175.53L209.33 175.92L210.08 176.32L210.83 176.70L211.59 177.09L212.34 177.47L213.10 177.86L213.86 178.23L214.62 178.61L215.38 178.98L216.14 179.35L216.91 179.72L217.67 180.09L218.44 180.45L219.20 180.81L219.97 181.17L220.74 181.53L221.51 181.88L222.28 182.23L223.05 182.58L223.82 182.92L224.60 183.27L225.37 183.61L226.15 183.95L226.93 184.28L227.71 184.62L228.49 184.95L229.27 185.28L230.05 185.61L230.83 185.93L231.61 186.25L232.40 186.57L233.18 186.89L233.97 187.21L234.76 187.52L235.54 187.83L236.33 188.14L237.12 188.45L237.91 188.75L238.71 189.05L239.50 189.35L240.29 189.65L241.09 189.95L241.88 190.24L242.68 190.53L243.48 190.82L244.27 191.11L245.07 191.39L245.87 191.68L246.67 191.96L247.47 192.24L248.28 192.52L249.08 192.79L249.88 193.07L250.69 193.34L251.49 193.61L252.30 193.87L253.10 194.14L253.91 194.40L254.72 194.66L255.53 194.92L256.34 195.18L257.15 195.44L257.96 195.69L258.77 195.95L259.58 196.20L260.39 196.45L261.21 196.69L262.02 196.94L262.83 197.18L263.65 197.42L264.47 197.66L265.28 197.90L266.10 198.14L266.92 198.37L267.73 198.61L268.55 198.84L269.37 199.07L270.19 199.30L271.01 199.52L271.83 199.75L272.65 199.97L273.48 200.19L274.30 200.41L275.12 200.63L275.94 200.85L276.77 201.07L277.59 201.28L278.42 201.49L279.24 201.70L280.07 201.91L280.89 202.12L281.72 202.33L282.55 202.53L283.37 202.74L284.20 202.94L285.03 203.14L285.86 203.34L286.69 203.54L287.51 203.74L288.34 203.93L289.17 204.13L290.00 204.32L290.83 204.51L291.66 204.70L292.49 204.89L293.33 205.08L294.16 205.27L294.99 205.45L295.82 205.64L296.65 205.82L297.48 206.00L298.32 206.18L299.15 206.36L299.98 206.54L300.82 206.72L301.65 206.89L302.48 207.07L303.32 207.24L304.15 207.41L304.98 207.59L305.82 207.76L306.65 207.93L307.49 208.10L308.32 208.26L309.16 208.43L309.99 208.60L310.83 208.76L311.66 208.92L312.50 209.09L313.33 209.25L314.17 209.41L315.00 209.57L315.84 209.73L316.67 209.89L317.51 210.04L318.34 210.20L319.18 210.35L320.02 210.51L320.85 210.66L321.69 210.81L322.52 210.97L323.36 211.12L324.20 211.27L325.03 211.42L325.87 211.56L326.71 211.71L327.54 211.86L328.38 212.00L329.22 212.15L330.05 212.29L330.89 212.43L331.73 212.57L332.56 212.72L333.40 212.86L334.24 212.99L335.08 213.13L335.91 213.27L336.75 213.41L337.59 213.54L338.43 213.68L339.26 213.81L340.10 213.95L340.94 214.08L341.78 214.21L342.62 214.34L343.46 214.47L344.29 214.60L345.13 214.73L345.97 214.86L346.81 214.99L347.65 215.11L348.49 215.24L349.33 215.36L350.17 215.49L351.01 215.61L351.85 215.73L352.69 215.86L353.53 215.98L354.37 216.10L355.21 216.22L356.05 216.34L356.89 216.46L357.73 216.57L358.57 216.69L359.41 216.81L360.25 216.92L361.09 217.04L361.93 217.15L362.77 217.27L363.61 217.38L364.45 217.49L365.29 217.60L366.13 217.71L366.98 217.82L367.82 217.93L368.66 218.04L369.50 218.15L370.34 218.26L371.19 218.36L372.03 218.47L372.87 218.58L373.71 218.68L374.55 218.79L375.40 218.89L376.24 218.99L377.08 219.10L377.93 219.20L378.77 219.30L379.61 219.40L380.46 219.50L381.30 219.60L382.14 219.70L382.99 219.80L383.83 219.90L384.67 219.99L385.52 220.09L386.36 220.19L387.21 220.28L388.05 220.38L388.89 220.47L389.74 220.57L390.58 220.66L391.43 220.75L392.27 220.85L393.12 220.94L393.96 221.03L394.81 221.12L395.66 221.21L396.50 221.30L397.35 221.39L398.19 221.48L399.04 221.57L399.88 221.66L400.73 221.75L401.58 221.83L402.42 221.92L403.27 222.01L404.12 222.09L404.96 222.18L405.81 222.26L406.66 222.35L407.51 222.43L408.35 222.52L409.20 222.60" fill="none" stroke="#ff4500" stroke-width="1.9"/>
<path d="M77.20 166.00L77.38 165.20L77.56 164.40L77.73 163.60L77.91 162.80L78.07 162.00L78.24 161.21L78.40 160.41L78.56 159.61L78.72 158.82L78.88 158.02L79.03 157.22L79.19 156.43L79.34 155.64L79.49 154.84L79.64 154.05L79.79 153.26L79.94 152.46L80.09 151.67L80.23 150.88L80.38 150.09L80.53 149.30L80.68 148.51L80.83 147.72L80.98 146.93L81.13 146.14L81.29 145.36L81.44 144.57L81.60 143.78L81.76 143.00L81.92 142.21L82.08 141.43L82.25 140.64L82.41 139.86L82.59 139.07L82.76 138.29L82.94 137.51L83.12 136.72L83.31 135.94L83.50 135.16L83.69 134.38L83.89 133.60L84.09 132.82L84.30 132.04L84.51 131.26L84.73 130.48L84.96 129.71L85.19 128.93L85.42 128.15L85.66 127.37L85.91 126.60L86.17 125.82L86.43 125.05L86.70 124.27L86.97 123.50L87.26 122.73L87.55 121.95L87.84 121.18L88.15 120.41L88.47 119.64L88.79 118.87L89.13 118.11L89.48 117.35L89.84 116.61L90.22 115.88L90.62 115.17L91.04 114.47L91.48 113.80L91.94 113.14L92.42 112.52L92.93 111.92L93.47 111.35L94.03 110.82L94.63 110.32L95.26 109.86L95.92 109.44L96.61 109.07L97.34 108.74L98.11 108.45L98.90 108.22L99.71 108.02L100.54 107.88L101.37 107.78L102.21 107.72L103.04 107.71L103.86 107.75L104.67 107.83L105.47 107.95L106.26 108.11L107.03 108.31L107.79 108.55L108.54 108.82L109.28 109.12L110.01 109.45L110.73 109.82L111.45 110.20L112.15 110.62L112.84 111.05L113.53 111.51L114.20 111.99L114.87 112.48L115.54 112.99L116.19 113.51L116.84 114.04L117.49 114.58L118.13 115.13L118.76 115.68L119.39 116.24L120.02 116.80L120.64 117.36L121.26 117.92L121.88 118.48L122.49 119.03L123.10 119.59L123.71 120.14L124.31 120.70L124.92 121.25L125.52 121.81L126.11 122.36L126.71 122.91L127.31 123.46L127.90 124.01L128.49 124.56L129.08 125.10L129.67 125.65L130.26 126.19L130.84 126.74L131.43 127.28L132.02 127.83L132.60 128.37L133.19 128.91L133.78 129.45L134.36 129.98L134.95 130.52L135.54 131.06L136.13 131.59L136.72 132.13L137.31 132.66L137.90 133.19L138.49 133.72L139.08 134.25L139.68 134.78L140.28 135.31L140.88 135.83L141.48 136.36L142.09 136.88L142.69 137.40L143.30 137.93L143.91 138.45L144.53 138.96L145.14 139.48L145.76 140.00L146.38 140.51L147.00 141.03L147.62 141.54L148.24 142.05L148.87 142.56L149.50 143.06L150.13 143.57L150.76 144.08L151.40 144.58L152.03 145.08L152.67 145.58L153.31 146.08L153.95 146.58L154.59 147.07L155.24 147.56L155.88 148.06L156.53 148.55L157.18 149.04L157.83 149.52L158.48 150.01L159.14 150.49L159.79 150.97L160.45 151.45L161.11 151.93L161.77 152.41L162.43 152.88L163.09 153.35L163.75 153.83L164.42 154.29L165.09 154.76L165.75 155.23L166.42 155.69L167.09 156.15L167.77 156.61L168.44 157.07L169.11 157.52L169.79 157.97L170.46 158.43L171.14 158.87L171.82 159.32L172.50 159.77L173.18 160.21L173.86 160.65L174.55 161.09L175.23 161.52L175.91 161.96L176.60 162.39L177.29 162.82L177.97 163.25L178.66 163.67L179.35 164.10L180.04 164.52L180.74 164.94L181.43 165.35L182.12 165.77L182.82 166.18L183.51 166.59L184.21 167.00L184.91 167.41L185.61 167.81L186.31 168.22L187.01 168.62L187.71 169.02L188.41 169.41L189.12 169.81L189.82 170.20L190.53 170.59L191.23 170.98L191.94 171.37L192.65 171.76L193.36 172.14L194.07 172.52L194.78 172.90L195.49 173.28L196.21 173.65L196.92 174.03L197.63 174.40L198.35 174.77L199.07 175.14L199.78 175.50L200.50 175.87L201.22 176.23L201.94 176.59L202.66 176.95L203.39 177.30L204.11 177.66L204.83 178.01L205.56 178.36L206.28 178.71L207.01 179.06L207.73 179.40L208.46 179.75L209.19 180.09L209.92 180.43L210.65 180.77L211.38 181.10L212.11 181.44L212.84 181.77L213.58 182.10L214.31 182.43L215.05 182.76L215.78 183.09L216.52 183.41L217.26 183.73L218.00 184.05L218.73 184.37L219.47 184.69L220.21 185.01L220.95 185.32L221.70 185.63L222.44 185.94L223.18 186.25L223.93 186.56L224.67 186.86L225.42 187.17L226.16 187.47L226.91 187.77L227.66 188.07L228.41 188.36L229.16 188.66L229.91 188.95L230.66 189.25L231.41 189.54L232.16 189.83L232.91 190.11L233.66 190.40L234.42 190.68L235.17 190.96L235.93 191.25L236.68 191.52L237.44 191.80L238.20 192.08L238.96 192.35L239.71 192.63L240.47 192.90L241.23 193.17L241.99 193.44L242.75 193.70L243.52 193.97L244.28 194.23L245.04 194.50L245.80 194.76L246.57 195.02L247.33 195.27L248.10 195.53L248.86 195.78L249.63 196.04L250.40 196.29L251.16 196.54L251.93 196.79L252.70 197.04L253.47 197.28L254.24 197.53L255.01 197.77L255.78 198.01L256.55 198.25L257.32 198.49L258.10 198.73L258.87 198.97L259.64 199.20L260.42 199.44L261.19 199.67L261.97 199.90L262.74 200.13L263.52 200.36L264.29 200.58L265.07 200.81L265.85 201.03L266.63 201.26L267.40 201.48L268.18 201.70L268.96 201.92L269.74 202.13L270.52 202.35L271.30 202.57L272.08 202.78L272.87 202.99L273.65 203.20L274.43 203.41L275.21 203.62L276.00 203.83L276.78 204.03L277.57 204.24L278.35 204.44L279.13 204.64L279.92 204.85L280.71 205.05L281.49 205.24L282.28 205.44L283.07 205.64L283.85 205.83L284.64 206.03L285.43 206.22L286.22 206.41L287.01 206.60L287.80 206.79L288.58 206.98L289.37 207.17L290.16 207.35L290.96 207.54L291.75 207.72L292.54 207.90L293.33 208.08L294.12 208.27L294.91 208.44L295.71 208.62L296.50 208.80L297.29 208.98L298.09 209.15L298.88 209.32L299.67 209.50L300.47 209.67L301.26 209.84L302.06 210.01L302.85 210.18L303.65 210.34L304.44 210.51L305.24 210.68L306.03 210.84L306.83 211.00L307.63 211.17L308.42 211.33L309.22 211.49L310.02 211.65L310.82 211.81L311.61 211.96L312.41 212.12L313.21 212.28L314.01 212.43L314.81 212.58L315.61 212.74L316.41 212.89L317.20 213.04L318.00 213.19L318.80 213.34L319.60 213.49L320.40 213.63L321.20 213.78L322.00 213.93L322.80 214.07L323.60 214.21L324.41 214.36L325.21 214.50L326.01 214.64L326.81 214.78L327.61 214.92L328.41 215.06L329.21 215.20L330.01 215.33L330.82 215.47L331.62 215.61L332.42 215.74L333.22 215.87L334.02 216.01L334.83 216.14L335.63 216.27L336.43 216.40L337.23 216.53L338.04 216.66L338.84 216.79L339.64 216.92L340.44 217.04L341.25 217.17L342.05 217.30L342.85 217.42L343.66 217.54L344.46 217.67L345.26 217.79L346.06 217.91L346.87 218.03L347.67 218.15L348.47 218.27L349.28 218.39L350.08 218.51L350.88 218.63L351.69 218.75L352.49 218.86L353.29 218.98L354.10 219.10L354.90 219.21L355.70 219.32L356.50 219.44L357.31 219.55L358.11 219.66L358.91 219.78L359.72 219.89L360.52 220.00L361.32 220.11L362.12 220.22L362.93 220.33L363.73 220.43L364.53 220.54L365.33 220.65L366.14 220.76L366.94 220.86L367.74 220.97L368.54 221.07L369.34 221.18L370.14 221.28L370.95 221.38L371.75 221.49L372.55 221.59L373.35 221.69L374.15 221.79L374.95 221.90L375.75 222.00L376.55 222.10L377.35 222.20L378.15 222.30L378.95 222.40L379.75 222.49L380.55 222.59L381.35 222.69L382.15 222.79L382.95 222.88L383.75 222.98L384.55 223.08L385.35 223.17L386.15 223.27L386.95 223.36L387.75 223.46L388.54 223.55L389.34 223.65L390.14 223.74L390.94 223.83L391.73 223.93L392.53 224.02L393.33 224.11L394.12 224.20L394.92 224.30L395.71 224.39L396.51 224.48L397.30 224.57L398.10 224.66L398.89 224.75L399.69 224.84L400.48 224.93L401.28 225.02L402.07 225.11L402.86 225.20L403.66 225.29L404.45 225.37L405.24 225.46L406.03 225.55L406.83 225.64L407.62 225.73L408.41 225.81L409.20 225.90" fill="none" stroke="#0808f8" stroke-width="1.8" stroke-dasharray="8.2 5.5" stroke-dashoffset="0"/>
</g>
<rect x="68.7" y="9.7" width="340.50" height="226.70" fill="none" stroke="#555555" stroke-width="1.0"/>
<path d="M68.70 236.40v-10.20M68.70 9.70v10.20M77.21 236.40v-5.20M77.21 9.70v5.20M85.72 236.40v-5.20M85.72 9.70v5.20M94.24 236.40v-5.20M94.24 9.70v5.20M102.75 236.40v-5.20M102.75 9.70v5.20M111.26 236.40v-10.20M111.26 9.70v10.20M119.78 236.40v-5.20M119.78 9.70v5.20M128.29 236.40v-5.20M128.29 9.70v5.20M136.80 236.40v-5.20M136.80 9.70v5.20M145.31 236.40v-5.20M145.31 9.70v5.20M153.82 236.40v-10.20M153.82 9.70v10.20M162.34 236.40v-5.20M162.34 9.70v5.20M170.85 236.40v-5.20M170.85 9.70v5.20M179.36 236.40v-5.20M179.36 9.70v5.20M187.88 236.40v-5.20M187.88 9.70v5.20M196.39 236.40v-10.20M196.39 9.70v10.20M204.90 236.40v-5.20M204.90 9.70v5.20M213.41 236.40v-5.20M213.41 9.70v5.20M221.93 236.40v-5.20M221.93 9.70v5.20M230.44 236.40v-5.20M230.44 9.70v5.20M238.95 236.40v-10.20M238.95 9.70v10.20M247.46 236.40v-5.20M247.46 9.70v5.20M255.98 236.40v-5.20M255.98 9.70v5.20M264.49 236.40v-5.20M264.49 9.70v5.20M273.00 236.40v-5.20M273.00 9.70v5.20M281.51 236.40v-10.20M281.51 9.70v10.20M290.02 236.40v-5.20M290.02 9.70v5.20M298.54 236.40v-5.20M298.54 9.70v5.20M307.05 236.40v-5.20M307.05 9.70v5.20M315.56 236.40v-5.20M315.56 9.70v5.20M324.07 236.40v-10.20M324.07 9.70v10.20M332.59 236.40v-5.20M332.59 9.70v5.20M341.10 236.40v-5.20M341.10 9.70v5.20M349.61 236.40v-5.20M349.61 9.70v5.20M358.12 236.40v-5.20M358.12 9.70v5.20M366.64 236.40v-10.20M366.64 9.70v10.20M375.15 236.40v-5.20M375.15 9.70v5.20M383.66 236.40v-5.20M383.66 9.70v5.20M392.18 236.40v-5.20M392.18 9.70v5.20M400.69 236.40v-5.20M400.69 9.70v5.20M409.20 236.40v-10.20M409.20 9.70v10.20M68.70 236.40h10.20M409.20 236.40h-10.20M68.70 225.06h5.20M409.20 225.06h-5.20M68.70 213.73h5.20M409.20 213.73h-5.20M68.70 202.40h5.20M409.20 202.40h-5.20M68.70 191.06h5.20M409.20 191.06h-5.20M68.70 179.73h10.20M409.20 179.73h-10.20M68.70 168.39h5.20M409.20 168.39h-5.20M68.70 157.06h5.20M409.20 157.06h-5.20M68.70 145.72h5.20M409.20 145.72h-5.20M68.70 134.38h5.20M409.20 134.38h-5.20M68.70 123.05h10.20M409.20 123.05h-10.20M68.70 111.71h5.20M409.20 111.71h-5.20M68.70 100.38h5.20M409.20 100.38h-5.20M68.70 89.04h5.20M409.20 89.04h-5.20M68.70 77.71h5.20M409.20 77.71h-5.20M68.70 66.37h10.20M409.20 66.37h-10.20M68.70 55.04h5.20M409.20 55.04h-5.20M68.70 43.71h5.20M409.20 43.71h-5.20M68.70 32.37h5.20M409.20 32.37h-5.20M68.70 21.03h5.20M409.20 21.03h-5.20M68.70 9.70h10.20M409.20 9.70h-10.20" fill="none" stroke="#555555" stroke-width="1"/>
<text transform="translate(55.51 243.90) rotate(0.03) scale(1.1898 1.0000)" font-size="17.6" font-weight="bold" fill="#000" stroke="#fff" stroke-width="0.12">0</text>
<text transform="translate(45.57 187.23) rotate(0.03) scale(1.1589 1.0000)" font-size="17.6" font-weight="bold" fill="#000" stroke="#fff" stroke-width="0.12">10</text>
<text transform="translate(45.43 130.55) rotate(0.03) scale(1.1672 1.0000)" font-size="17.6" font-weight="bold" fill="#000" stroke="#fff" stroke-width="0.12">20</text>
<text transform="translate(45.53 73.87) rotate(0.03) scale(1.1609 1.0000)" font-size="17.6" font-weight="bold" fill="#000" stroke="#fff" stroke-width="0.12">30</text>
<text transform="translate(46.05 17.20) rotate(0.03) scale(1.1304 1.0000)" font-size="17.6" font-weight="bold" fill="#000" stroke="#fff" stroke-width="0.12">40</text>
<text transform="translate(63.66 259.70) rotate(0.03) scale(1.1898 1.0000)" font-size="17.6" font-weight="bold" fill="#000" stroke="#fff" stroke-width="0.12">0</text>
<text transform="translate(106.17 259.70) rotate(0.03) scale(1.1969 1.0000)" font-size="17.6" font-weight="bold" fill="#000" stroke="#fff" stroke-width="0.12">5</text>
<text transform="translate(144.02 259.70) rotate(0.03) scale(1.1396 1.0000)" font-size="17.6" font-weight="bold" fill="#000" stroke="#fff" stroke-width="0.12">10</text>
<text transform="translate(186.58 259.70) rotate(0.03) scale(1.1396 1.0000)" font-size="17.6" font-weight="bold" fill="#000" stroke="#fff" stroke-width="0.12">15</text>
<text transform="translate(228.99 259.70) rotate(0.03) scale(1.1487 1.0000)" font-size="17.6" font-weight="bold" fill="#000" stroke="#fff" stroke-width="0.12">20</text>
<text transform="translate(271.55 259.70) rotate(0.03) scale(1.1487 1.0000)" font-size="17.6" font-weight="bold" fill="#000" stroke="#fff" stroke-width="0.12">25</text>
<text transform="translate(314.22 259.70) rotate(0.03) scale(1.1425 1.0000)" font-size="17.6" font-weight="bold" fill="#000" stroke="#fff" stroke-width="0.12">30</text>
<text transform="translate(356.78 259.70) rotate(0.03) scale(1.1425 1.0000)" font-size="17.6" font-weight="bold" fill="#000" stroke="#fff" stroke-width="0.12">35</text>
<text transform="translate(399.86 259.70) rotate(0.03) scale(1.1124 1.0000)" font-size="17.6" font-weight="bold" fill="#000" stroke="#fff" stroke-width="0.12">40</text>
<text transform="translate(207.55 286.20) rotate(0.03) scale(1.1925 1.0000)" font-size="16.5" font-weight="bold" font-style="italic" fill="#000" stroke="#fff" stroke-width="0.12">q</text>
<text transform="translate(216.10 289.80) rotate(0.03) scale(1.3200 1.0000)" font-size="10.5" font-weight="bold" font-style="italic" fill="#000" stroke="#fff" stroke-width="0.12">T</text>
<text transform="translate(233.45 286.80) rotate(0.03) scale(0.9331 1.0000)" font-size="17" font-weight="bold" fill="#000" stroke="#fff" stroke-width="0.12">GeV</text>
<path d="M232.9 275.9H229.8V291.2H232.9M265.8 275.9H268.9V291.2H265.8" stroke="#000" stroke-width="1" fill="none"/>
<g transform="translate(32.2 205) rotate(-90)">
<text transform="translate(-0.47 0.00) rotate(0.03) scale(0.9786 1.0000)" font-size="17.2" font-weight="bold" fill="#000">d</text>
<text transform="translate(9.60 0.00) rotate(0.03) scale(1.0988 1.0000)" font-size="16.5" font-weight="bold" font-style="italic" fill="#000">σ</text>
<text transform="translate(29.67 0.00) rotate(0.03) scale(0.9210 1.0000)" font-size="17.2" font-weight="bold" fill="#000">d</text>
<text transform="translate(38.85 0.00) rotate(0.03) scale(1.0747 1.0000)" font-size="17.2" font-weight="bold" font-style="italic" fill="#000">Q</text>
<text transform="translate(55.45 0.00) rotate(0.03) scale(0.9440 1.0000)" font-size="17.2" font-weight="bold" fill="#000">d</text>
<text transform="translate(65.29 0.00) rotate(0.03) scale(1.0090 1.0000)" font-size="16.5" font-weight="bold" font-style="italic" fill="#000">q</text>
<text transform="translate(73.07 3.50) rotate(0.03) scale(1.3797 1.0000)" font-size="10.3" font-weight="bold" font-style="italic" fill="#000">T</text>
<text transform="translate(90.80 0.00) rotate(0.03) scale(1.0073 1.0000)" font-size="16.2" font-weight="bold" fill="#000">p</text>
<text transform="translate(100.39 0.00) rotate(0.03) scale(0.9950 1.0000)" font-size="17.2" font-weight="bold" fill="#000">b</text>
<text transform="translate(119.28 0.00) rotate(0.03) scale(0.8855 1.0000)" font-size="17.2" font-weight="bold" fill="#000">G</text>
<text transform="translate(131.94 0.00) rotate(0.03) scale(1.1619 1.0000)" font-size="16.2" font-weight="bold" fill="#000">e</text>
<text transform="translate(140.34 0.00) rotate(0.03) scale(0.9302 1.0000)" font-size="17.2" font-weight="bold" fill="#000">V</text>
<text transform="translate(152.58 -6.80) rotate(0.03) scale(1.0875 1.0000)" font-size="11.3" font-weight="bold" fill="#000">2</text>
<path d="M90.2 -12H87.8V3.6H90.2M159.4 -12H161.8V3.6H159.4" stroke="#000" stroke-width="1" fill="none"/>
<path d="M22.1 3.6L28.5 -11.9M111.6 3.6L117.8 -11.9" stroke="#000" stroke-width="1.2" fill="none"/>
</g>
<text transform="translate(82.88 35.80) rotate(0.03) scale(1.1511 1.0000)" font-size="16.5" font-weight="bold" font-style="italic" fill="#000" stroke="#fff" stroke-width="0.12">pp</text>
<path d="M108.1 32h17.5M121.6 27.9c0.9 2.2 2.5 3.5 4.6 4.1c-2.1 0.6-3.7 1.9-4.6 4.1" fill="none" stroke="#000" stroke-width="1.25"/>
<text transform="translate(133.55 35.80) rotate(0.03) scale(1.2172 1.0000)" font-size="17.2" font-weight="bold" font-style="italic" fill="#000" stroke="#fff" stroke-width="0.12">Z</text>
<text transform="translate(154.34 36.13) rotate(0.03) scale(1.0508 1.1538)" font-size="17" font-weight="bold" fill="#000" stroke="#fff" stroke-width="0.12">(</text>
<text transform="translate(160.68 35.90) rotate(0.03) scale(1.1492 1.0000)" font-size="17.6" font-weight="bold" fill="#000" stroke="#fff" stroke-width="0.12">13</text>
<text transform="translate(185.72 35.90) rotate(0.03) scale(1.0814 1.0000)" font-size="17.2" font-weight="bold" fill="#000" stroke="#fff" stroke-width="0.12">TeV</text>
<text transform="translate(219.02 36.13) rotate(0.03) scale(1.0508 1.1538)" font-size="17" font-weight="bold" fill="#000" stroke="#fff" stroke-width="0.12">)</text>
<rect x="251.3" y="24.7" width="29.7" height="15.5" fill="#f0a30a"/>
<path d="M251.3 32.4h29.7" stroke="#ff4500" stroke-width="1.5"/>
<rect x="251.3" y="47.1" width="29.7" height="15.6" fill="#7bdbfc"/>
<path d="M251.3 55h29.7" stroke="#0808f8" stroke-width="1.7" stroke-dasharray="8.2 5.5"/>
<text transform="translate(288.01 37.30) rotate(0.03) scale(1.1254 1.0000)" font-size="17.2" font-weight="bold" fill="#000" stroke="#fff" stroke-width="0.12">NNLL</text>
<path d="M343.9 33.1h12.3M350.05 26.8v12.6" stroke="#000" stroke-width="1.3" fill="none"/>
<text transform="translate(358.72 37.30) rotate(0.03) scale(1.1157 1.0000)" font-size="17.2" font-weight="bold" fill="#000" stroke="#fff" stroke-width="0.12">NLO</text>
<text transform="translate(288.03 59.90) rotate(0.03) scale(1.0666 1.0000)" font-size="17.2" font-weight="bold" fill="#000" stroke="#fff" stroke-width="0.12">NLL</text>
</svg>
</body></html>
